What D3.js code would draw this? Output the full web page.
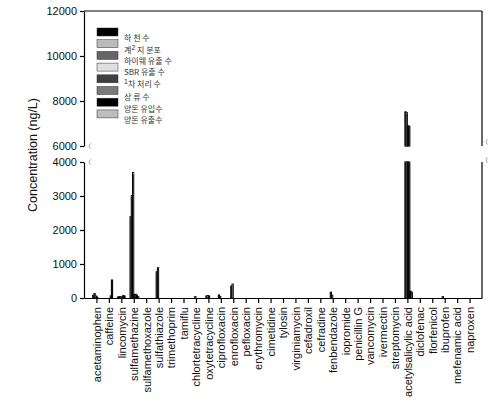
<!DOCTYPE html>
<html><head><meta charset="utf-8">
<script src="https://cdn.jsdelivr.net/npm/d3@7"></script>
<style>body{margin:0;background:#fff}svg{display:block}</style>
</head><body><svg id="c" width="499" height="413"></svg>
<script>
const categories = ["acetaminophen","caffeine","lincomycin","sulfamethazine","sulfamethoxazole","sulfathiazole","trimethoprim","tamiflu","chlortetracycline","oxytetracycline","ciprofloxacin","enrofloxacin","pefloxacin","erythromycin","cimetidine","tylosin","virginiamycin","cefadroxil","cefradine","fenbendazole","iopromide","penicillin G","vancomycin","ivermectin","streptomycin","acetylsalicylic acid","diclofenac","florfenicol","ibuprofen","mefenamic acid","naproxen"];
const legendLabels = ["하 천 수","계| 지 분포","하이웨  유출 수","SBR   유출 수","|차 처리 수","상 류 수","양돈 유입수","양돈 유출수"];
const legendSup = ["","2","","","1","","",""];
const seriesColors = ["#000000","#bbbbbb","#666666","#dedede","#404040","#7a7a7a","#000000","#bdbdbd"];
// values per series (ng/L), one per category
const s1 = [0,0,0,0,0,0,0,0,0,0,0,0,0,0,0,0,0,0,0,0,0,0,0,0,0,0,0,0,0,0,0];
const s2 = [80,0,30,2390,0,0,0,0,0,0,0,0,0,0,0,0,0,0,0,0,0,0,0,0,0,0,0,0,0,0,0];
const s3 = [130,0,40,3010,0,770,0,0,0,60,90,350,0,0,0,0,0,0,0,170,0,0,0,0,0,7520,0,0,40,0,0];
const s4 = [60,0,40,3690,0,890,0,0,40,70,40,410,0,0,0,0,0,0,0,80,0,0,0,0,0,7480,0,0,0,0,0];
const s5 = [30,0,0,100,0,0,0,0,0,60,0,0,0,0,0,0,0,0,0,0,0,0,0,0,0,6900,0,0,0,0,0];
const s6 = [0,60,70,110,0,0,0,0,0,0,0,0,0,0,0,0,0,0,0,0,0,0,0,0,0,6880,0,0,0,0,0];
const s7 = [0,530,60,80,0,0,0,0,0,0,0,0,0,0,0,0,0,0,0,0,0,0,0,0,0,200,0,0,0,0,0];
const s8 = [0,0,0,40,0,0,0,0,0,0,0,0,0,0,0,0,0,0,0,0,0,0,0,0,0,170,0,0,0,0,0];
const series = [s1,s2,s3,s4,s5,s6,s7,s8];
const ticksBottom = [0,1000,2000,3000,4000];
const ticksTop = [6000,8000,10000,12000];

const svg = d3.select("#c");
const L = 84, R = 482, T = 11, B = 298;
const x = d3.scalePoint().domain(categories).range([L, R]).padding(1);
const inner = d3.scaleBand().domain(d3.range(8)).range([-5, 5]);
const yB = d3.scaleLinear().domain([0, 4000]).range([B, 162]);
const yT = d3.scaleLinear().domain([6000, 12000]).range([146, T]);
const font = "'Liberation Sans', Arial, sans-serif";

// bars
series.forEach((vals, si) => {
  const g = svg.append("g");
  vals.forEach((v, ci) => {
    if (!v) return;
    const bx = x(categories[ci]) + inner(si);
    const vb = Math.min(v, 4000);
    g.append("rect").attr("x", bx).attr("width", inner.bandwidth())
      .attr("y", yB(vb)).attr("height", yB(0) - yB(vb))
      .attr("fill", seriesColors[si]).attr("stroke", "#000").attr("stroke-width", 1);
    if (v > 6000) {
      g.append("rect").attr("x", bx).attr("width", inner.bandwidth())
        .attr("y", yT(v)).attr("height", yT(6000) - yT(v))
        .attr("fill", seriesColors[si]).attr("stroke", "#000").attr("stroke-width", 1);
    }
  });
});

// axes
function styleAxis(g) {
  g.selectAll("path,line").attr("stroke", "#000").attr("stroke-width", 1.2);
  g.selectAll("text").attr("fill", "#111").style("font-family", font).style("font-size", "11px");
}
svg.append("g").attr("transform", `translate(${L},0)`)
  .call(d3.axisLeft(yB).tickValues(ticksBottom).tickFormat(d3.format("d")).tickSize(4).tickSizeOuter(0).tickPadding(3))
  .call(styleAxis);
svg.append("g").attr("transform", `translate(${L},0)`)
  .call(d3.axisLeft(yT).tickValues(ticksTop).tickFormat(d3.format("d")).tickSize(4).tickSizeOuter(0).tickPadding(3))
  .call(styleAxis);
const xa = svg.append("g").attr("transform", `translate(0,${B})`)
  .call(d3.axisBottom(x).tickSize(5).tickSizeOuter(0))
  .call(styleAxis);
xa.selectAll("text").attr("transform", "rotate(-90)").attr("x", -9).attr("y", 0)
  .attr("dy", "0.35em").style("text-anchor", "end");

// frame
svg.append("line").attr("x1", L).attr("x2", R).attr("y1", T).attr("y2", T).attr("stroke", "#000").attr("stroke-width", 1.2);
svg.append("line").attr("x1", R).attr("x2", R).attr("y1", T).attr("y2", yT(6000)).attr("stroke", "#000").attr("stroke-width", 1.2);
svg.append("line").attr("x1", R).attr("x2", R).attr("y1", yB(4000)).attr("y2", B).attr("stroke", "#000").attr("stroke-width", 1.2);

// break marks
[[L + 6, yT(6000)], [L + 6, yB(4000)], [R + 5, yT(6000) - 4], [R + 5, yB(4000) - 2]].forEach(([cx, cy]) => {
  svg.append("path").attr("d", `M${cx + 1.2},${cy - 2.2} C${cx - 1.5},${cy - 2.5} ${cx - 1.5},${cy + 2.5} ${cx + 1.2},${cy + 2.2}`)
    .attr("fill", "none").attr("stroke", "#888").attr("stroke-width", 0.7);
});

// y title
svg.append("text").attr("transform", "translate(37,155) rotate(-90)").attr("text-anchor", "middle")
  .style("font-family", font).style("font-size", "12.5px").attr("fill", "#111").text("Concentration (ng/L)");

// legend
const lg = svg.append("g");
const rowShift = [0, 0, -0.5, -1, 1.5, 1, 0.5, 0];
legendLabels.forEach((lab, i) => {
  const y0 = 28 + i * 11.7;
  lg.append("rect").attr("x", 97).attr("y", y0).attr("width", 21).attr("height", 8)
    .attr("fill", seriesColors[i]).attr("stroke", "#333").attr("stroke-width", 0.5);
  const t = lg.append("text").attr("x", 124).attr("y", y0 + 10 + rowShift[i]).attr("dy", "0.35em")
    .style("font-family", "'Noto Sans CJK KR', sans-serif").style("font-size", "8px").attr("fill", "#333");
  const parts = lab.split("|");
  if (parts.length === 1) {
    t.text(lab);
  } else {
    if (parts[0]) t.append("tspan").text(parts[0]);
    t.append("tspan").attr("dy", "-0.35em").style("font-family", font).style("font-size", "7px").text(legendSup[i]);
    t.append("tspan").attr("dy", "0.35em").text(parts[1]);
  }
});
</script></body></html>
